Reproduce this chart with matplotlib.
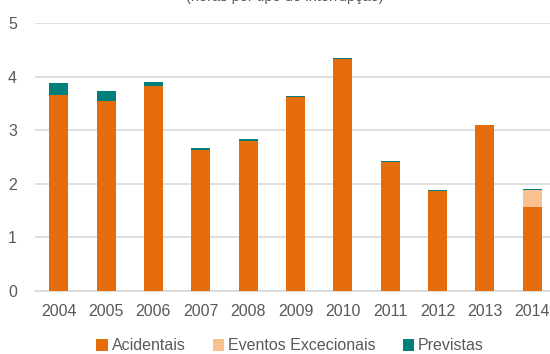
"""Interrupções por tipo, 2004-2014"""
import matplotlib
matplotlib.use("Agg")
import matplotlib.pyplot as plt
import numpy as np


# dados por ano
anos = ["2004", "2005", "2006", "2007", "2008", "2009", "2010", "2011", "2012", "2013", "2014"]
acidentais = [3.66, 3.55, 3.82, 2.63, 2.80, 3.62, 4.32, 2.41, 1.87, 3.09, 1.57]
excecionais = [0.0, 0.0, 0.0, 0.0, 0.0, 0.0, 0.0, 0.0, 0.0, 0.0, 0.32]
previstas = [0.22, 0.18, 0.08, 0.04, 0.03, 0.02, 0.02, 0.015, 0.015, 0.01, 0.01]

cor_acid = "#E46C0A"
cor_exc = "#FAC090"
cor_prev = "#007F7B"
cinza = "#595959"

plt.rcParams['font.family'] = ['Liberation Sans', 'DejaVu Sans']

fig = plt.figure(figsize=(5.5, 3.54), dpi=100)
ax = fig.add_axes([35/550, 63/354, (556-35)/550, (291-23)/354])

x = np.arange(len(anos))
largura = 0.4
b1 = np.array(acidentais)
b2 = b1 + np.array(excecionais)
ax.bar(x, acidentais, largura, color=cor_acid, label="Acidentais", zorder=3)
ax.bar(x, excecionais, largura, bottom=b1, color=cor_exc, label="Eventos Excecionais", zorder=3)
ax.bar(x, previstas, largura, bottom=b2, color=cor_prev, label="Previstas", zorder=3)

ax.set_xlim(-0.5, len(anos) - 0.5)
ax.set_ylim(0, 5)
ax.set_yticks(range(0, 6))
ax.set_xticks(x)
ax.set_xticklabels(anos)
ax.grid(axis='y', color="#D9D9D9", linewidth=1.2, zorder=0)
for lado in ["top", "right", "left"]:
    ax.spines[lado].set_visible(False)
ax.spines["bottom"].set_color("#D9D9D9")
ax.spines["bottom"].set_linewidth(1.2)
ax.tick_params(axis='both', length=0, labelsize=11.5, labelcolor=cinza)
ax.tick_params(axis='x', pad=9)
ax.tick_params(axis='y', pad=13)

# titulo (parcialmente cortado no topo)
fig.text(285/550, 1 - 0.5/354, "(horas por tipo de interrupção)", ha='center', va='baseline',
         fontsize=10.5, color=cinza)

leg = fig.legend(loc='center', bbox_to_anchor=(290/550, 1 - 346/354), ncol=3, frameon=False,
                 fontsize=11.5, handlelength=0.7, handleheight=0.7, handletextpad=0.25,
                 columnspacing=1.7)
for t in leg.get_texts():
    t.set_color(cinza)

plt.savefig("out.png", dpi=100)
